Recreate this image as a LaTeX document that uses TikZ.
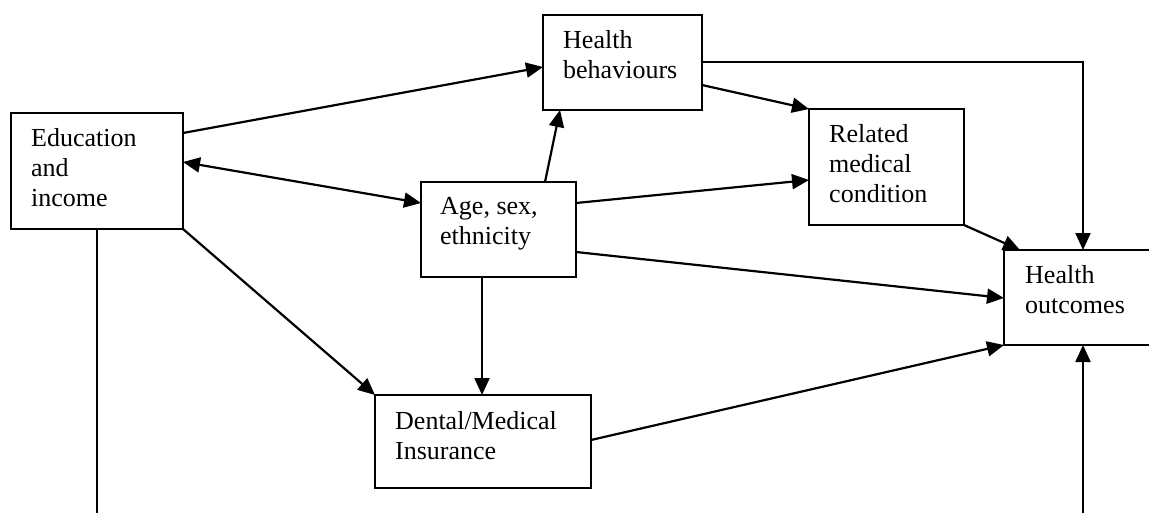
\documentclass[tikz,border=0pt]{standalone}
\usepackage{fontspec}
\setmainfont{Liberation Serif}
\usetikzlibrary{arrows.meta,calc}

\tikzset{
  box/.style={draw, line width=2.2pt, rectangle, inner sep=0pt, outer sep=0pt, anchor=north west},
  lbl/.style={anchor=north west, inner sep=0pt, align=left, font=\fontsize{26}{30}\selectfont},
  tip/.tip={Triangle[length=17pt,width=15pt]},
  link/.style={line width=2.2pt, -tip},
  biLink/.style={line width=2.2pt, tip-tip}
}

\begin{document}
\begin{tikzpicture}[x=1pt, y=-1pt]
  \clip (0,0) rectangle (1149,512);
  \fill[white] (0,0) rectangle (1149,512);

  % boxes
  \node[box, minimum width=172pt, minimum height=116pt] (edu) at (11,113) {};
  \node[box, minimum width=159pt, minimum height=95pt]  (hb)  at (543,15) {};
  \node[box, minimum width=155pt, minimum height=116pt] (rmc) at (809,109) {};
  \node[box, minimum width=155pt, minimum height=95pt]  (age) at (421,182) {};
  \node[box, minimum width=160pt, minimum height=95pt]  (ho)  at (1004,250) {};
  \node[box, minimum width=216pt, minimum height=93pt]  (ins) at (375,395) {};

  % labels
  \node[lbl] (edut) at ($(edu.north west)+(20,15)$) {Education\\and\\income};
  \node[lbl] (hbt)  at ($(hb.north west)+(20,15)$)  {Health\\behaviours};
  \node[lbl] (rmct) at ($(rmc.north west)+(20,15)$) {Related\\medical\\condition};
  \node[lbl] (aget) at ($(age.north west)+(19,15)$) {Age, sex,\\ethnicity};
  \node[lbl] (hot)  at ($(ho.north west)+(21,15)$)  {Health\\outcomes};
  \node[lbl] (inst) at ($(ins.north west)+(20,16)$) {Dental/Medical\\Insurance};

  % routing points (the bottom run lies just below the frame)
  \coordinate (bl) at (97,520);
  \coordinate (br) at (1083,520);
  \coordinate (eduS) at ($(edu.south west)+(86,0)$);
  \coordinate (hbR) at ($(hb.north east)+(0,47)$);
  \coordinate (ageS) at ($(age.south west)+(61,0)$);

  % connectors
  \draw[link] ($(edu.north east)+(0,20)$) -- ($(hb.north west)+(0,52)$);
  \draw[biLink] ($(edu.north east)+(0,49)$) -- ($(age.north west)+(0,21)$);
  \draw[link] (edu.south east) -- (ins.north west);
  \draw[link] (eduS) -- (bl) -- (br) -- (br |- ho.south);
  \draw[link] ($(age.north west)+(124,0)$) -- ($(hb.south west)+(17,0)$);
  \draw[link] ($(age.north east)+(0,21)$) -- ($(rmc.north west)+(0,71)$);
  \draw[link] ($(age.north east)+(0,70)$) -- ($(ho.north west)+(0,48)$);
  \draw[link] (ageS) -- (ageS |- ins.north);
  \draw[link] ($(hb.north east)+(0,70)$) -- (rmc.north west);
  \draw[link] (hbR) -- (hbR -| br) -- (br |- ho.north);
  \draw[link] (rmc.south east) -- ($(ho.north west)+(16,0)$);
  \draw[link] ($(ins.north east)+(0,45)$) -- (ho.south west);
\end{tikzpicture}
\end{document}
